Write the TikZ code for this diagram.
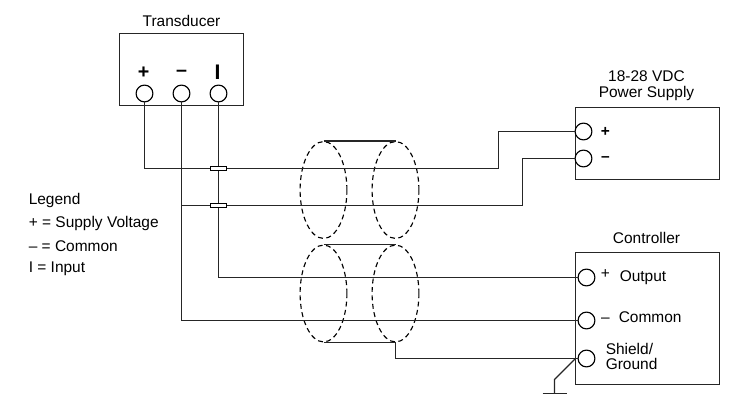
\documentclass[tikz,border=0pt]{standalone}
\usepackage{fontspec}
\setmainfont{Liberation Sans}
\usetikzlibrary{shapes.geometric}
\tikzset{
    wire/.style={line width=0.8pt, black!85},
    boxline/.style={draw, line width=0.8pt, black!85, inner sep=0pt},
    terminal/.style={circle, draw, fill=white, line width=0.8pt, inner sep=0pt, minimum size=0.42cm},
    splice/.style={draw, fill=white, line width=0.8pt, minimum width=0.4cm, minimum height=0.11cm, inner sep=0pt},
    shield/.style={ellipse, draw, dash pattern=on 3.5pt off 2.5pt, line width=0.8pt, inner sep=0pt, minimum width=1.17cm, minimum height=2.42cm},
    label/.style={font=\fontsize{11}{12}\selectfont, align=center, inner sep=0pt},
}
\begin{document}
\begin{tikzpicture}[x=0.025cm, y=-0.025cm]
    \useasboundingbox (-0.5, -0.5) rectangle (735.5, 399.5);
    % boxes
    \node[boxline, minimum width=3.1cm, minimum height=1.8cm] (transducer) at (181, 69) {};
    \node[boxline, minimum width=3.6cm, minimum height=1.8cm] (supply) at (647, 143) {};
    \node[boxline, minimum width=3.6cm, minimum height=3.3cm] (controller) at (647, 318) {};
    % shield
    \node[shield] (shieldA) at (323, 189.5) {};
    \node[shield] (shieldB) at (395, 189.5) {};
    \node[shield] (shieldC) at (323, 293) {};
    \node[shield] (shieldD) at (395, 293) {};
    % terminals
    \node[terminal] (tplus) at (144, 93) {};
    \node[terminal] (tminus) at (181, 93) {};
    \node[terminal] (tinput) at (218, 93) {};
    \node[terminal] (splus) at (583, 131) {};
    \node[terminal] (sminus) at (583, 158) {};
    \node[terminal] (coutput) at (586, 277) {};
    \node[terminal] (ccommon) at (586, 320) {};
    \node[terminal] (cshield) at (586, 358) {};
    % wires
    \coordinate (bendplus) at (498, 168);
    \coordinate (bendminus) at (522, 205);
    \coordinate (bendshield) at (395, 358);
    \coordinate (groundtop) at (554, 379);
    \coordinate (groundend) at (554, 393);
    \coordinate (barleft) at (542, 393);
    \coordinate (barright) at (566, 393);
    \coordinate (cshieldedge) at (575, 358);
    \draw[wire] (tplus) |- (bendplus) |- (splus);
    \draw[wire] (tminus) |- (ccommon);
    \draw[wire] (tinput) |- (coutput);
    \draw[wire] (tminus |- bendminus) -- (bendminus) |- (sminus);
    \draw[wire] (cshieldedge) -- (groundtop) -- (groundend);
    \draw[wire] (barleft) -- (barright);
    \draw[wire] (shieldA.north) -- (shieldB.north);
    \draw[wire] (shieldC.north) -- (shieldD.north);
    \draw[wire] (shieldC.south) -- (shieldD.south) -- (bendshield) -- (cshield);
    % splices
    \node[splice] (spliceA) at (218, 168) {};
    \node[splice] (spliceB) at (218, 205) {};
    % labels
    \node[label] (titletransducer) at (181, 20) {Transducer};
    \node[label] (titlesupply) at (646, 85) {18-28 VDC\\[-0.7pt]Power Supply};
    \node[label] (titlecontroller) at (646, 237) {Controller};
    \node[label, font=\fontsize{14}{14}\selectfont\bfseries] (plustrans) at (143, 72) {+};
    \node[label, font=\fontsize{14}{14}\selectfont\bfseries] (minustrans) at (181, 73) {--};
    \node[label, font=\fontsize{15}{15}\selectfont\bfseries] (inputtrans) at (217, 72) {I};
    \node[label, font=\fontsize{11}{11}\selectfont\bfseries] (plussupply) at (605, 131) {+};
    \node[label, font=\fontsize{11}{11}\selectfont\bfseries] (minussupply) at (605, 159) {--};
    \node[label] (plusctrl) at (605, 274) {+};
    \node[label] (minusctrl) at (605, 320) {--};
    \node[label, anchor=west] (outputctrl) at (619, 277) {Output};
    \node[label, anchor=west] (commonctrl) at (618, 317) {Common};
    \node[label, anchor=west, align=left] (shieldctrl) at (605, 356) {Shield/\\[-0.7pt]Ground};
    \node[label, anchor=west] (legendA) at (28, 200) {Legend};
    \node[label, anchor=west] (legendB) at (28, 223) {+ = Supply Voltage};
    \node[label, anchor=west] (legendC) at (28, 246) {-- = Common};
    \node[label, anchor=west] (legendD) at (28, 268) {I = Input};
\end{tikzpicture}
\end{document}
